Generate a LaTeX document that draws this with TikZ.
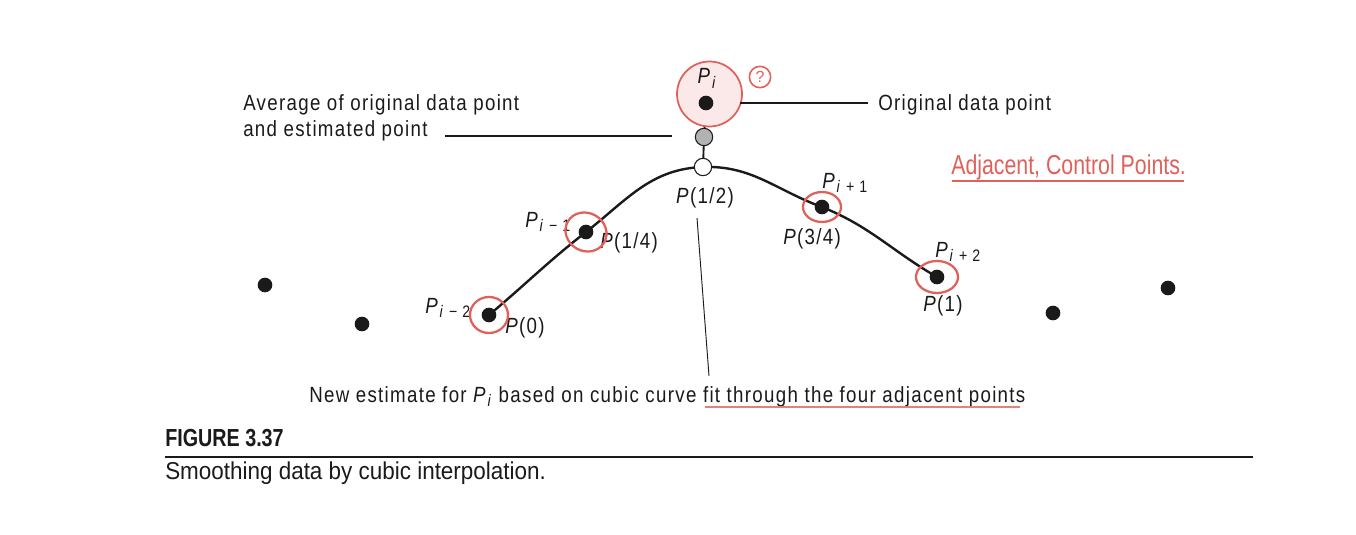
\documentclass[tikz,border=0pt]{standalone}
\usepackage{fontspec}
\usetikzlibrary{backgrounds}
\setmainfont{Liberation Sans}
\newfontfamily\lab[FakeStretch=0.85,LetterSpace=6]{Liberation Sans}
\newfontfamily\figfont[FakeStretch=0.8]{Liberation Sans}
\newfontfamily\capfont[FakeStretch=0.92]{Liberation Sans}
\newfontfamily\hand[FakeStretch=0.78]{Liberation Sans}
\definecolor{pen}{HTML}{E0605A}
\definecolor{pinkfill}{HTML}{FBE8E8}
\definecolor{ink}{HTML}{1A1A1A}
\newcommand\Pl[1]{\textit{P}\kern0.5pt\raisebox{-0.4ex}{\fontsize{12.5}{12.5}\selectfont #1}}
\begin{document}
\begin{tikzpicture}[x=0.75pt,y=0.75pt,
  txt/.style={font=\lab\fontsize{16.5}{19.5}\selectfont, text=ink, inner sep=0},
  dot/.style={circle, fill=ink, inner sep=0, minimum size=11pt},
  greydot/.style={circle, fill=black!30, draw=ink, line width=0.8pt, inner sep=0, minimum size=13pt},
  whitedot/.style={circle, fill=white, draw=ink, line width=0.8pt, inner sep=0, minimum size=13pt},
  curveline/.style={line width=1.8pt, ink},
  leader/.style={line width=0.9pt, ink},
  mark circle/.style={draw=pen, line width=1.7pt},
]
\useasboundingbox (0,0) rectangle (1356,-535);

% highlight circle behind P_i
\node[circle, fill=pinkfill, draw=pen, line width=1.3pt, minimum size=48.75pt, inner sep=0] (hl) at (709.5,-94) {};

% dots
\node[dot] (pi) at (706,-103) {};
\node[greydot] (avg) at (704,-137) {};
\node[whitedot] (p2) at (703,-167) {};
\node[dot] (p0) at (489,-315) {};
\node[dot] (p1) at (586,-232) {};
\node[dot] (p3) at (822,-207) {};
\node[dot] (p4) at (937,-277) {};
\node[dot] (q1) at (265,-285) {};
\node[dot] (q2) at (362,-324) {};
\node[dot] (q3) at (1053,-313) {};
\node[dot] (q4) at (1168,-288) {};

\begin{pgfonlayer}{background}
\draw[curveline] (p0.center) to[out=40,in=218] (p1.center) to[out=38,in=182] (p2.center)
  to[out=2,in=160] (p3.center) to[out=-22,in=150] (p4.center);
\draw[line width=1.4pt, ink] (pi.center) -- (avg.center) -- (p2.center);
\end{pgfonlayer}

% labels
\node[txt, anchor=base] (lpi) at (707,-84) {\Pl{\textit{i}}};
\node[txt, anchor=base west] (lavg) at (243,-110) {Average of original data point};
\node[txt, anchor=base west] (lavg2) at (243,-136) {and estimated point};
\node[txt, anchor=base west] (lorig) at (878,-110) {Original data point};
\node[txt, anchor=base] (l2) at (705,-203) {\textit{P}(1/2)};
\node[txt, anchor=base west] (l0) at (505,-333) {\textit{P}(0)};
\node[txt, anchor=base west] (l1) at (600,-248) {\textit{P}(1/4)};
\node[txt, anchor=base west] (l3) at (783,-244) {\textit{P}(3/4)};
\node[txt, anchor=base west] (l4) at (923,-311) {\textit{P}(1)};
\node[txt, anchor=base west] (n0) at (425,-313) {\Pl{\textit{i} − 2}};
\node[txt, anchor=base west] (n1) at (525,-227) {\Pl{\textit{i} − 1}};
\node[txt, anchor=base west] (n3) at (822,-188) {\Pl{\textit{i} + 1}};
\node[txt, anchor=base west] (n4) at (935,-257) {\Pl{\textit{i} + 2}};
\node[txt, anchor=base west] (bot) at (309,-402) {New estimate for \Pl{\textit{i}} based on cubic curve fit through the four adjacent points};

% leader lines
\coordinate (avgL) at (445,-136);
\coordinate (avgR) at (672,-136);
\coordinate (origL) at (740,-103);
\coordinate (origR) at (868,-103);
\coordinate (estT) at (697,-218);
\coordinate (estB) at (709,-376);
\draw[leader] (avgL) -- (avgR);
\draw[leader] (origL) -- (origR);
\draw[line width=0.7pt, ink] (estT) -- (estB);

% red annotations
\draw[mark circle] (p0) ellipse[x radius=19, y radius=18];
\draw[mark circle, rotate around={-30:(p1)}] (p1) ellipse[x radius=21, y radius=19];
\draw[mark circle] (p3) ellipse[x radius=19, y radius=15];
\draw[mark circle] (p4) ellipse[x radius=21, y radius=16];
\node[draw=pen, line width=1.2pt, circle, inner sep=0, minimum size=16pt, text=pen, font=\fontsize{12}{12}\selectfont] (qm) at (760,-77) {?};
\coordinate (ulA) at (705,-407);
\coordinate (ulB) at (1020,-407);
\draw[pen!80, line width=1.3pt] (ulA) -- (ulB);
\node[anchor=base west, inner sep=0, text=pen, font=\hand\fontsize{20.5}{20.5}\selectfont] (adj) at (951,-174) {Adjacent, Control Points.};
\coordinate (ul2A) at (952,-181);
\coordinate (ul2B) at (1184,-181);
\draw[pen, line width=1.8pt] (ul2A) -- (ul2B);

% caption
\node[anchor=base west, inner sep=0, text=ink, font=\figfont\bfseries\fontsize{18.5}{18.5}\selectfont] (fig) at (165,-446) {FIGURE 3.37};
\coordinate (ruleL) at (165,-457);
\coordinate (ruleR) at (1253,-457);
\draw[line width=0.8pt, ink] (ruleL) -- (ruleR);
\node[anchor=base west, inner sep=0, text=ink, font=\capfont\fontsize{18.3}{18.3}\selectfont] (cap) at (165,-479) {Smoothing data by cubic interpolation.};
\end{tikzpicture}
\end{document}
